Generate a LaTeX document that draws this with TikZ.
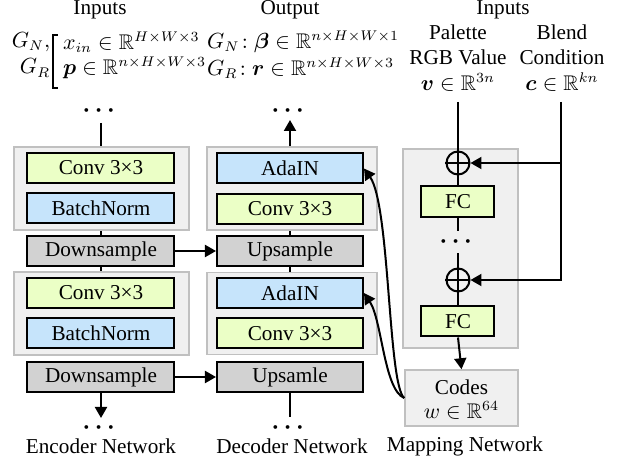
\documentclass[tikz,border=0pt]{standalone}
\usepackage{amsmath,amssymb,bm}
\usepackage{fontspec}
\setmainfont{Liberation Serif}
\usetikzlibrary{arrows.meta}
\definecolor{convc}{RGB}{235,255,198}
\definecolor{normc}{RGB}{198,228,251}
\definecolor{sampc}{RGB}{210,210,210}
\definecolor{grpfill}{RGB}{240,240,240}
\definecolor{grpline}{RGB}{192,192,192}
\begin{document}
\begin{tikzpicture}[x=0.5pt,y=-0.5pt,
  font=\fontsize{10.6}{12.5}\selectfont,
  grp/.style={draw=grpline, fill=grpfill, line width=0.75pt, inner sep=0pt},
  blk/.style={draw=black, line width=1pt, inner sep=0pt, minimum height=15pt},
  ew/.style={minimum width=73.5pt},
  dw/.style={minimum width=73pt},
  convb/.style={blk, fill=convc},
  normb/.style={blk, fill=normc},
  sampb/.style={blk, fill=sampc},
  conn/.style={line width=1pt},
  arr/.style={line width=1pt, -{Triangle[length=5.5pt,width=6pt]}},
  dotsn/.style={inner sep=0pt, minimum height=11pt, font=\fontsize{12}{12}\selectfont\boldmath},
  opl/.style={circle, draw=black, line width=1pt, minimum size=11.5pt, inner sep=0pt, fill=grpfill},
  tline/.style={inner sep=0pt}
]
\useasboundingbox (0,0) rectangle (618,465);

% ---------- top texts ----------
\node (in1) at (100,10) {Inputs};
\node (out1) at (290,10) {Output};
\node (gn1) at (31,42) {$G_N,$};
\node (gr1) at (35,68) {$G_R$};
\draw[line width=0.6pt] (58,35) -- (53,35) -- (53,88) -- (58,88);
\node[anchor=west] (xin) at (56,42) {$x_{in} \in \mathbb{R}^{H\times W\times 3}$};
\node[anchor=west] (pin) at (56,68) {$\bm{p} \in \mathbb{R}^{n\times H\times W\times 3}$};
\node[anchor=west] (beta) at (200,42) {$G_N\!: \bm{\beta} \in \mathbb{R}^{n\times H\times W\times 1}$};
\node[anchor=west] (rr) at (200,68) {$G_R\!: \bm{r} \in \mathbb{R}^{n\times H\times W\times 3}$};

\node (in2) at (503,10) {Inputs};
\node (pal) at (458,32) {Palette};
\node (rgb) at (458,57) {RGB Value};
\node (vv) at (458,82) {$\bm{v}\in\mathbb{R}^{3n}$};
\node (bl) at (562,32) {Blend};
\node (cond) at (562,57) {Condition};
\node (cc) at (562,82) {$\bm{c}\in\mathbb{R}^{kn}$};

% ---------- dots ----------
\node[dotsn] (etd) at (101,111) {$\cdots$};
\node[dotsn] (dtd) at (290,111) {$\cdots$};
\node[dotsn] (ebd) at (101,428) {$\cdots$};
\node[dotsn] (dbd) at (290,428) {$\cdots$};

% ---------- encoder ----------
\coordinate (etop) at (101,123);
\node[convb, ew] (ec1) at (101,168) {Conv 3×3};
\node[normb, ew] (eb1) at (101,208) {BatchNorm};
\node[sampb, ew] (ed1) at (101,251) {Downsample};
\node[convb, ew] (ec2) at (101,293) {Conv 3×3};
\node[normb, ew] (eb2) at (101,333) {BatchNorm};
\node[sampb, ew] (ed2) at (101,377) {Downsample};
\coordinate (ebot) at (101,418);

% ---------- decoder ----------
\coordinate (dtop) at (290,120);
\node[normb, dw] (da1) at (290,168.5) {AdaIN};
\node[convb, dw] (dc1) at (290,209) {Conv 3×3};
\node[sampb, dw] (du1) at (290,251) {Upsample};
\node[normb, dw] (da2) at (290,293) {AdaIN};
\node[convb, dw] (dc2) at (290,333.5) {Conv 3×3};
\node[sampb, dw] (du2) at (290,377) {Upsamle};
\coordinate (dbot) at (290,417);

% vertical connectors behind groups
\draw[conn] (eb1) -- (ed1);
\draw[conn] (ed1) -- (ec2);
\draw[conn] (dc1) -- (du1);
\draw[conn] (du1) -- (da2);

% groups
\node[grp, minimum width=87.5pt, minimum height=41.5pt] (eg1) at (101.5,188.5) {};
\node[grp, minimum width=87.5pt, minimum height=41.5pt] (eg2) at (101.5,313.5) {};
\node[grp, minimum width=85pt, minimum height=41.5pt] (dg1) at (292,188.5) {};
\node[grp, minimum width=85pt, minimum height=41pt] (dg2) at (292,313.5) {};
\node[grp, minimum width=57.5pt, minimum height=99.5pt] (mg) at (460.5,248.5) {};
\node[grp, minimum width=56.5pt, minimum height=28pt] (codes) at (461.5,398) {};
\node[tline] (codest) at (461.5,387) {Codes};
\node[tline] (codesw) at (461.5,410) {$w\in\mathbb{R}^{64}$};

% redraw boxes on top of groups
\node[convb, ew] at (ec1) {Conv 3×3};
\node[normb, ew] at (eb1) {BatchNorm};
\node[convb, ew] at (ec2) {Conv 3×3};
\node[normb, ew] at (eb2) {BatchNorm};
\node[normb, dw] at (da1) {AdaIN};
\node[convb, dw] at (dc1) {Conv 3×3};
\node[normb, dw] at (da2) {AdaIN};
\node[convb, dw] at (dc2) {Conv 3×3};

% encoder / decoder outer connectors
\draw[conn] (etop) -- (eg1.north -| etop);
\draw[arr] (ed2) -- (ebot);
\draw[arr] (dg1.north -| dtop) -- (dtop);
\draw[conn] (du2) -- (dbot);
\draw[arr] (ed1.east) -- (du1.west);
\draw[arr] (ed2.east) -- (du2.west);

% ---------- mapping network ----------
\coordinate (pv) at (458,102);
\coordinate (bc) at (561,102);
\node[opl] (op1) at (458,163) {};
\node[convb, minimum width=36.5pt, minimum height=15.5pt] (fc1) at (458,201.5) {FC};
\node[dotsn] (md) at (458,242) {$\cdots$};
\node[opl] (op2) at (458,280) {};
\node[convb, minimum width=36.5pt, minimum height=15pt] (fc2) at (458,321.5) {FC};
\draw[conn] (op1.north) -- (op1.south) (op1.west) -- (op1.east);
\draw[conn] (op2.north) -- (op2.south) (op2.west) -- (op2.east);
\draw[conn] (pv) -- (op1.north);
\draw[conn] (op1.south) -- (fc1.north);
\draw[conn] (fc1.south) -- (md.north);
\draw[conn] (md.south) -- (op2.north);
\draw[conn] (op2.south) -- (fc2.north);
\draw[arr] (fc2.south) -- (codes.north);
\draw[arr] (bc) |- (op2.east);
\draw[arr] (op1.east -| bc) -- (op1.east);

% curved arrows codes -> AdaIN
\draw[arr] (codes.west) .. controls (388,385) and (390,205) .. (da1.east);
\draw[arr] (codes.west) .. controls (384,390) and (382,320) .. (da2.east);

% ---------- bottom labels ----------
\node (encl) at (101,446) {Encoder Network};
\node (decl) at (292,446) {Decoder Network};
\node (mapl) at (465,446) {Mapping Network};
\end{tikzpicture}
\end{document}
